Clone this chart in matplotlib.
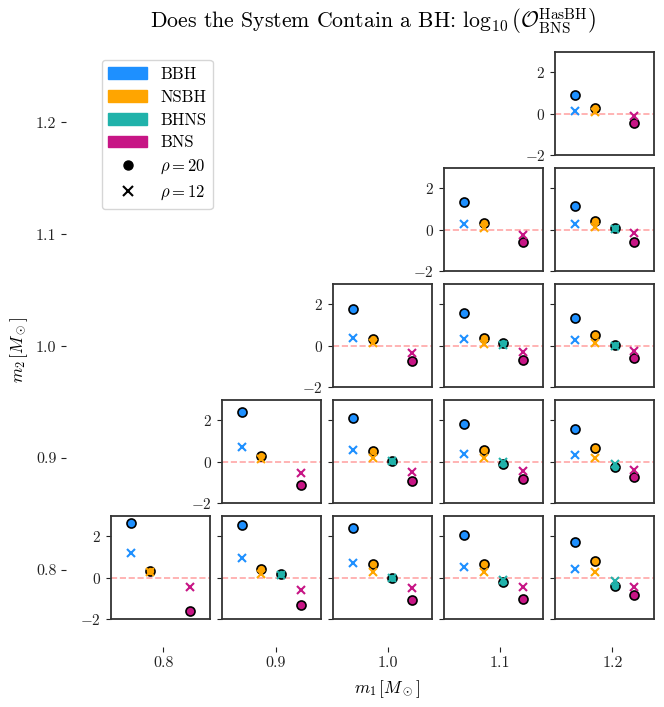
import numpy as np
import matplotlib
matplotlib.use("Agg")
import matplotlib.pyplot as plt
from matplotlib.patches import Patch
from matplotlib.lines import Line2D

plt.rcParams['font.family'] = 'serif'
plt.rcParams['font.serif'] = ['cmr10', 'DejaVu Serif']
plt.rcParams['mathtext.fontset'] = 'cm'
plt.rcParams['axes.formatter.use_mathtext'] = True

# masses on the grid
masses = [0.8, 0.9, 1.0, 1.1, 1.2]
classes = ['BBH', 'NSBH', 'BHNS', 'BNS']
colors = ['dodgerblue', 'orange', 'lightseagreen', 'mediumvioletred']

# panels ordered by m2, then m1 (only m1 >= m2)
panel_m1 = [0.8, 0.9, 1.0, 1.1, 1.2, 0.9, 1.0, 1.1, 1.2, 1.0, 1.1, 1.2, 1.1, 1.2, 1.2]
panel_m2 = [0.8, 0.8, 0.8, 0.8, 0.8, 0.9, 0.9, 0.9, 0.9, 1.0, 1.0, 1.0, 1.1, 1.1, 1.2]

nan = np.nan
# log10 odds, rho = 20
bbh_20 = [2.63, 2.55, 2.39, 2.06, 1.71, 2.42, 2.11, 1.81, 1.58, 1.77, 1.60, 1.35, 1.34, 1.16, 0.92]
nsbh_20 = [0.32, 0.45, 0.65, 0.66, 0.81, 0.29, 0.52, 0.56, 0.68, 0.32, 0.39, 0.53, 0.32, 0.42, 0.30]
bhns_20 = [nan, 0.18, -0.03, -0.19, -0.39, nan, 0.03, -0.10, -0.23, nan, 0.15, 0.02, nan, 0.11, nan]
bns_20 = [-1.61, -1.32, -1.09, -1.00, -0.85, -1.13, -0.91, -0.84, -0.71, -0.71, -0.69, -0.61, -0.61, -0.58, -0.45]
# log10 odds, rho = 12
bbh_12 = [1.18, 0.94, 0.70, 0.53, 0.45, 0.71, 0.56, 0.40, 0.35, 0.40, 0.35, 0.26, 0.27, 0.26, 0.13]
nsbh_12 = [0.30, 0.21, 0.29, 0.27, 0.27, 0.15, 0.19, 0.19, 0.21, 0.13, 0.11, 0.13, 0.08, 0.16, 0.08]
bhns_12 = [nan, 0.15, -0.02, -0.08, -0.16, nan, 0.02, 0.00, -0.08, nan, 0.03, 0.00, nan, 0.05, nan]
bns_12 = [-0.43, -0.61, -0.48, -0.45, -0.46, -0.55, -0.48, -0.45, -0.37, -0.35, -0.32, -0.23, -0.27, -0.16, -0.11]

vals_20 = [bbh_20, nsbh_20, bhns_20, bns_20]
vals_12 = [bbh_12, nsbh_12, bhns_12, bns_12]

W, H = 664, 707
fig = plt.figure(figsize=(W / 100, H / 100), dpi=100)

# outer axes carrying the m1 / m2 ticks
ax = fig.add_axes([66 / W, 1 - 647 / H, (655 - 66) / W, (647 - 51.7) / H])
ax.set_xlim(0.7134, 1.2379)
ax.set_ylim(0.7312, 1.2632)
ax.set_xticks(masses)
ax.set_yticks(masses)
ax.xaxis.set_major_formatter(matplotlib.ticker.FormatStrFormatter('%.1f'))
ax.yaxis.set_major_formatter(matplotlib.ticker.FormatStrFormatter('%.1f'))
for s in ax.spines.values():
    s.set_visible(False)
ax.tick_params(labelsize=11.5, colors='#222222')
ax.set_xlabel(r'$m_1\,[M_\odot]$', fontsize=12.5)
ax.set_ylabel(r'$m_2\,[M_\odot]$', fontsize=12.5, labelpad=4)
ax.xaxis.set_label_coords((387 - 66) / 589, -(678 - 647) / 595.3)
ax.patch.set_alpha(0)

pw, ph = 99.3, 103.6
for k in range(len(panel_m1)):
    c = masses.index(panel_m1[k])
    r = masses.index(panel_m2[k])
    left = 110.7 + c * 111.07
    top = 515.7 - r * 116.0
    sub = fig.add_axes([left / W, 1 - (top + ph) / H, pw / W, ph / H])
    sub.axhline(0, color='red', alpha=0.35, ls='--', lw=1.2, zorder=1)
    for j in range(4):
        v20 = vals_20[j][k]
        v12 = vals_12[j][k]
        if not np.isnan(v20):
            sub.plot(j, v20, 'o', color=colors[j], mec='black', mew=1.2, ms=6.5, zorder=3)
        if not np.isnan(v12):
            sub.plot(j, v12, 'x', color=colors[j], mew=1.5, ms=6, zorder=4)
    sub.set_xlim(-1, 4)
    sub.set_ylim(-2, 3)
    sub.set_xticks([])
    sub.set_yticks([-2, 0, 2])
    if c != r:
        sub.set_yticklabels([])
    sub.tick_params(labelsize=11, colors='#222222')
    for s in sub.spines.values():
        s.set_linewidth(1.3)
        s.set_color('#333333')

handles = [Patch(color=colors[i], label=classes[i]) for i in range(4)]
handles.append(Line2D([], [], marker='o', color='black', ls='', ms=6.5, label=r'$\rho = 20$'))
handles.append(Line2D([], [], marker='x', color='black', ls='', ms=6.5, mew=1.5, label=r'$\rho = 12$'))
ax.legend(handles=handles, loc='upper left', bbox_to_anchor=(101.7 / W, 1 - 60 / H),
          bbox_transform=fig.transFigure, fontsize=12, handlelength=2.3,
          borderaxespad=0, labelspacing=0.45)

fig.text(373 / W, 1 - 20 / H,
         r'Does the System Contain a BH: $\log_{10}\left(\mathcal{O}^{\rm HasBH}_{\rm BNS}\right)$',
         ha='center', va='center', fontsize=15.7)

fig.savefig('out.png', dpi=100)
